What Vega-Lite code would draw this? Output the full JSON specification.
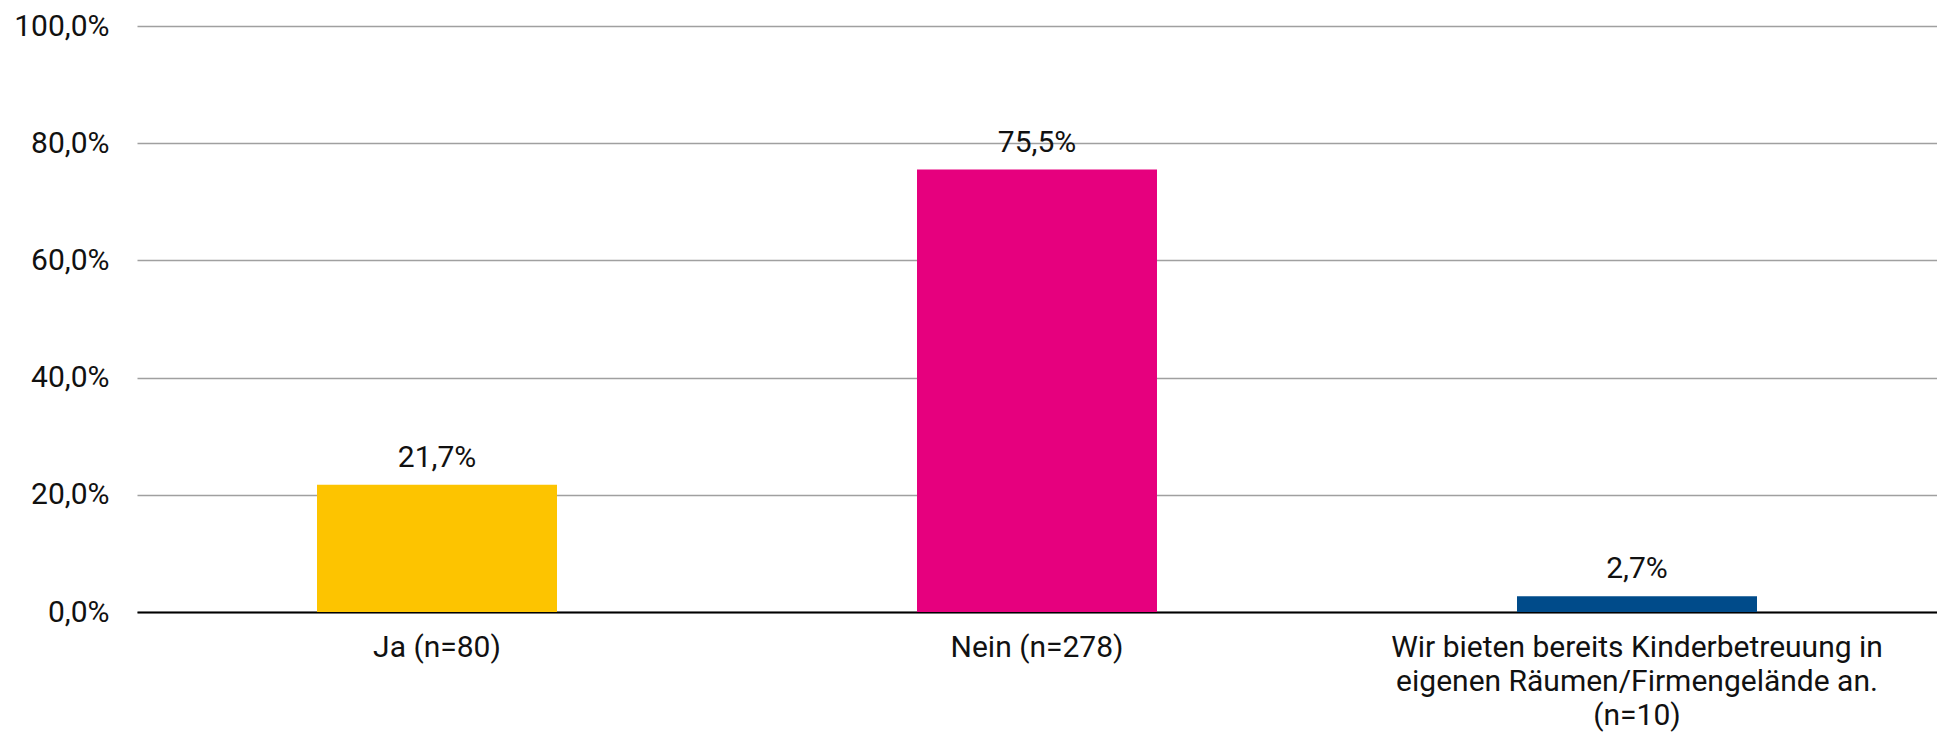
{
  "$schema": "https://vega.github.io/schema/vega-lite/v6.json",
  "autosize": "none",
  "width": 1800,
  "height": 586,
  "padding": {"left": 137, "top": 26, "right": 0, "bottom": 127},
  "background": "white",
  "config": {
    "view": {"stroke": null},
    "font": "Roboto",
    "locale": {
      "number": {
        "decimal": ",",
        "thousands": ".",
        "grouping": [3],
        "currency": ["", " €"]
      }
    }
  },
  "data": {
    "values": [
      {"cat": "Ja (n=80)", "value": 0.217, "color": "#FDC400"},
      {"cat": "Nein (n=278)", "value": 0.755, "color": "#E6007E"},
      {"cat": "Wir bieten bereits Kinderbetreuung in|eigenen Räumen/Firmengelände an.|(n=10)", "value": 0.027, "color": "#004B8A"}
    ]
  },
  "encoding": {
    "x": {
      "field": "cat",
      "type": "nominal",
      "sort": null,
      "scale": {"paddingInner": 0.6, "paddingOuter": 0.3},
      "axis": {
        "title": null,
        "labelAngle": 0,
        "labelExpr": "split(datum.label, '|')",
        "labelFontSize": 30,
        "labelColor": "#111111",
        "labelLineHeight": 34,
        "labelPadding": 20,
        "ticks": false,
        "domainColor": "#000000",
        "domainWidth": 2,
        "labelLimit": 800
      }
    },
    "y": {
      "field": "value",
      "type": "quantitative",
      "scale": {"domain": [0, 1]},
      "axis": {
        "title": null,
        "values": [0, 0.2, 0.4, 0.6, 0.8, 1],
        "format": ".1%",
        "labelFontSize": 30,
        "labelColor": "#111111",
        "labelPadding": 28,
        "ticks": false,
        "domain": false,
        "gridColor": "#A0A0A0",
        "gridWidth": 1.5
      }
    }
  },
  "layer": [
    {
      "mark": {"type": "bar"},
      "encoding": {
        "color": {"field": "color", "type": "nominal", "scale": null}
      }
    },
    {
      "mark": {"type": "text", "baseline": "alphabetic", "dy": -18, "fontSize": 30, "color": "#111111"},
      "encoding": {
        "text": {"field": "value", "type": "quantitative", "format": ".1%"}
      }
    }
  ]
}
